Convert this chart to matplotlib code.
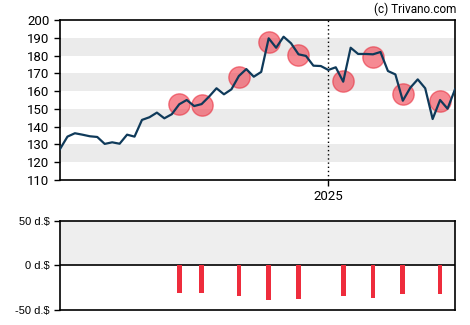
import numpy as np
import matplotlib.pyplot as plt

# weekly closing prices
prices = [127.4, 134.4, 136.3, 135.5, 134.6, 134.2, 130.3, 131.2, 130.4, 135.5,
          134.4, 143.8, 145.3, 147.9, 144.7, 147.0, 152.6, 155.0, 151.6, 152.7,
          156.9, 161.6, 158.2, 161.0, 168.5, 172.4, 168.1, 170.8, 189.7, 184.4,
          190.6, 186.9, 180.7, 179.8, 174.3, 174.1, 171.9, 173.4, 165.3, 184.4,
          180.9, 180.9, 180.7, 182.0, 171.3, 169.4, 154.6, 161.9, 166.6, 161.6,
          144.3, 155.0, 150.1, 161.0]
# signal markers: week index, price level, dividend-like bar value
sig_idx = [16, 19, 24, 28, 32, 38, 42, 46, 51]
sig_val = [152.6, 152.4, 168.0, 187.8, 180.3, 165.7, 179.0, 158.2, 154.4]
bar_val = [-30.6, -30.6, -34.0, -38.5, -37.3, -34.0, -36.2, -31.7, -31.7]
year_idx = 36
year_label = '2025'

plt.rcParams['font.family'] = ['Roboto', 'DejaVu Sans']

fig = plt.figure(figsize=(4.7, 3.25), dpi=100)
ax = fig.add_axes([60/470, 1-180/325, 395/470, 160/325])
ax2 = fig.add_axes([60/470, 1-310/325, 395/470, 89.3/325])

x = np.arange(len(prices))
for lo in [120, 140, 160, 180]:
    ax.axhspan(lo, lo+10, color='#ebebeb', lw=0, zorder=0)
ax.axvline(year_idx, color='black', ls=(0, (1, 2)), lw=1, zorder=1)
ax.scatter(sig_idx, sig_val, s=235, color='#f03c4c', alpha=0.6,
           edgecolors='#e8303f', linewidths=1, zorder=3)
ax.plot(x, prices, color='#0f3a5a', lw=1.6, zorder=4)
ax.set_xlim(0, len(prices)-1)
ax.set_ylim(110, 200)
ax.set_yticks(range(110, 201, 10))
ax.set_xticks([year_idx])
ax.set_xticklabels([year_label])
ax.tick_params(labelsize=9.5, length=4, width=1, colors='black')
for s in ax.spines.values():
    s.set_linewidth(1.2)
fig.text(456/470, 1-9/325, '(c) Trivano.com', ha='right', va='center', fontsize=8.5)

ax2.axhspan(0, 50, color='#eeeeee', lw=0, zorder=0)
ax2.axhline(0, color='black', lw=1.2, zorder=2)
ax2.bar(sig_idx, bar_val, width=0.63, color='#ee2c3c', zorder=3)
ax2.set_xlim(0, len(prices)-1)
ax2.set_ylim(-50, 50)
ax2.set_yticks([50, 0, -50])
ax2.set_yticklabels(['50 d.$', '0 d.$', '-50 d.$'], family=['Liberation Sans'])
ax2.set_xticks([])
ax2.tick_params(labelsize=8, length=4, width=1)
for s in ax2.spines.values():
    s.set_linewidth(1.2)

fig.savefig('out.png', dpi=100)
